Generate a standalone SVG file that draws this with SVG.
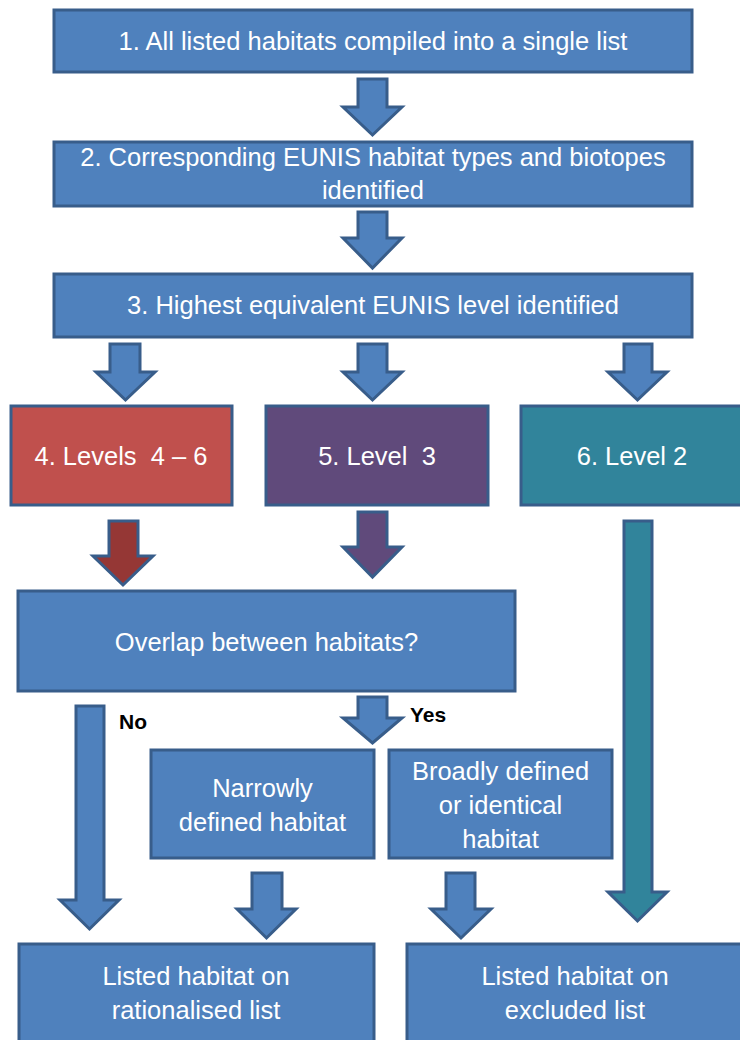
<svg xmlns="http://www.w3.org/2000/svg" width="740" height="1040" viewBox="0 0 740 1040">
<style>
.box{fill:#4F81BD;stroke:#385D8A;stroke-width:3}
.red{fill:#C0504D}
.pur{fill:#604A7B}
.teal{fill:#31849B}
.arr{fill:#4F81BD;stroke:#385D8A;stroke-width:3;stroke-linejoin:miter}
.t{font-family:"Liberation Sans",Arial,sans-serif;font-size:25.5px;fill:#FFFFFF;text-anchor:middle}
.lbl{font-family:"Liberation Sans",Arial,sans-serif;font-size:21px;font-weight:bold;fill:#000000}
</style>
<rect width="740" height="1040" fill="#FFFFFF"/>
<g id="connectors">
<polygon class="arr" points="358,79 387,79 387,107 402,107 372.5,135 343,107 358,107"/>
<polygon class="arr" points="358,212 387,212 387,238 402,238 372.5,268 343,238 358,238"/>
<polygon class="arr" points="110,344 140,344 140,372 155,372 125.5,400 96,372 110,372"/>
<polygon class="arr" points="358,344 387,344 387,372 402,372 372.5,400 343,372 358,372"/>
<polygon class="arr" points="624,344 652,344 652,372 667,372 637.5,400 608,372 624,372"/>
<polygon class="arr" style="fill:#953735" points="109,521 138,521 138,556 153,556 123,585 93,556 109,556"/>
<polygon class="arr" style="fill:#604A7B" points="358,512 387,512 387,547 402,547 372.5,577 343,547 358,547"/>
<polygon class="arr" style="fill:#31849B" points="624,521 652,521 652,892 667,892 637.5,921 608,892 624,892"/>
<polygon class="arr" points="358,697 387,697 387,718 402,718 372.5,743 343,718 358,718"/>
<polygon class="arr" points="76,706 104,706 104,900 119,900 89.5,929 60,900 76,900"/>
<polygon class="arr" points="252,873 282,873 282,909 296,909 266.5,938 237,909 252,909"/>
<polygon class="arr" points="446,873 475,873 475,909 491,909 461,938 431,909 446,909"/>
<text class="lbl" x="119" y="729">No</text>
<text class="lbl" x="410" y="722">Yes</text>
</g>
<g id="n1">
<rect class="box" x="54" y="10" width="638" height="62"/>
<text class="t" x="373" y="50">1. All listed habitats compiled into a single list</text>
</g>
<g id="n2">
<rect class="box" x="54" y="142" width="638" height="64"/>
<text class="t" x="373" y="166">2. Corresponding EUNIS habitat types and biotopes</text>
<text class="t" x="373" y="199">identified</text>
</g>
<g id="n3">
<rect class="box" x="54" y="274" width="638" height="63"/>
<text class="t" x="373" y="314">3. Highest equivalent EUNIS level identified</text>
</g>
<g id="n4">
<rect class="box red" x="11" y="406" width="221" height="99"/>
<text class="t" x="121" y="465" xml:space="preserve">4. Levels  4 – 6</text>
</g>
<g id="n5">
<rect class="box pur" x="266" y="406" width="222" height="99"/>
<text class="t" x="377" y="465" xml:space="preserve">5. Level  3</text>
</g>
<g id="n6">
<rect class="box teal" x="521" y="406" width="222" height="99"/>
<text class="t" x="632" y="465">6. Level 2</text>
</g>
<g id="n7">
<rect class="box" x="18" y="591" width="497" height="100"/>
<text class="t" x="266.5" y="651">Overlap between habitats?</text>
</g>
<g id="n8">
<rect class="box" x="151" y="750" width="223" height="108"/>
<text class="t" x="262.5" y="797">Narrowly</text>
<text class="t" x="262.5" y="831">defined habitat</text>
</g>
<g id="n9">
<rect class="box" x="389" y="750" width="223" height="108"/>
<text class="t" x="500.5" y="780">Broadly defined</text>
<text class="t" x="500.5" y="814">or identical</text>
<text class="t" x="500.5" y="848">habitat</text>
</g>
<g id="n10">
<rect class="box" x="19" y="944" width="355" height="110"/>
<text class="t" x="196" y="985">Listed habitat on</text>
<text class="t" x="196" y="1019">rationalised list</text>
</g>
<g id="n11">
<rect class="box" x="407" y="944" width="336" height="110"/>
<text class="t" x="575" y="985">Listed habitat on</text>
<text class="t" x="575" y="1019">excluded list</text>
</g>
</svg>
